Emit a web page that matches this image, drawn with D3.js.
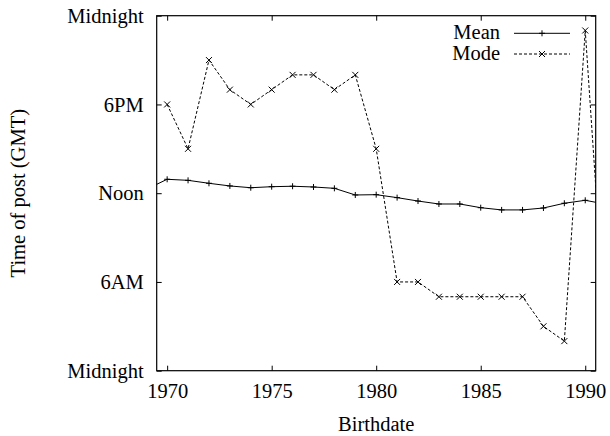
<!DOCTYPE html>
<html>
<head>
<meta charset="utf-8">
<script src="https://cdn.jsdelivr.net/npm/d3@7"></script>
<style>
  body { margin: 0; background: #fff; }
  text { font-family: "Liberation Serif", "Times New Roman", serif; font-size: 20.5px; fill: #000; }
</style>
</head>
<body>
<script>
// Birth years (the first and last fall just outside the visible range)
var meanYears = [1969, 1970, 1971, 1972, 1973, 1974, 1975, 1976, 1977, 1978, 1979, 1980,
                 1981, 1982, 1983, 1984, 1985, 1986, 1987, 1988, 1989, 1990, 1991];
// Mean posting hour (GMT)
var meanHours = [12.26, 12.94, 12.87, 12.67, 12.49, 12.37, 12.44, 12.47, 12.42, 12.33, 11.88, 11.90,
                 11.70, 11.47, 11.27, 11.27, 11.02, 10.87, 10.87, 11.00, 11.32, 11.52, 11.25];
var modeYears = [1970, 1971, 1972, 1973, 1974, 1975, 1976, 1977, 1978, 1979, 1980,
                 1981, 1982, 1983, 1984, 1985, 1986, 1987, 1988, 1989, 1990, 1991];
// Mode posting hour (GMT)
var modeHours = [18, 15, 21, 19, 18, 19, 20, 20, 19, 20, 15,
                 6, 6, 5, 5, 5, 5, 5, 3, 2, 23, 2];

var xTicks = [1970, 1975, 1980, 1985, 1990];
var yTicks = [0, 6, 12, 18, 24];
var yTickLabels = ["Midnight", "6AM", "Noon", "6PM", "Midnight"];
var seriesNames = ["Mean", "Mode"];

var width = 610,
    height = 436,
    margin = {top: 15.7, right: 14.3, bottom: 65.3, left: 156.7},
    w = width - margin.left - margin.right,
    h = height - margin.top - margin.bottom;

var svg = d3.select("body").append("svg")
    .attr("width", width)
    .attr("height", height);

var g = svg.append("g")
    .attr("transform", "translate(" + margin.left + "," + margin.top + ")");

var x = d3.scaleLinear().domain([1969.5, 1990.5]).range([0, w]);
var y = d3.scaleLinear().domain([0, 24]).range([h, 0]);

// clip the lines to the plot frame
svg.append("defs").append("clipPath")
    .attr("id", "plotClip")
  .append("rect")
    .attr("width", w)
    .attr("height", h);

// axes: ticks point inward, labels only on left and bottom
function styleAxis(sel) {
  sel.select(".domain").remove();
  sel.selectAll(".tick line").attr("stroke", "#000").attr("stroke-width", 1);
  sel.selectAll(".tick text").style("font-family", "Liberation Serif").style("font-size", "20.5px");
}

g.append("g")
    .attr("transform", "translate(0," + h + ")")
    .call(d3.axisBottom(x).tickValues(xTicks).tickFormat(d3.format("d"))
      .tickSizeInner(-5).tickSizeOuter(0).tickPadding(12.5))
    .call(styleAxis);

g.append("g")
    .call(d3.axisTop(x).tickValues(xTicks).tickFormat("")
      .tickSizeInner(-5).tickSizeOuter(0))
    .call(styleAxis);

g.append("g")
    .call(d3.axisLeft(y).tickValues(yTicks).tickFormat(function(d, i){ return yTickLabels[i]; })
      .tickSizeInner(-5).tickSizeOuter(0).tickPadding(13))
    .call(styleAxis);

g.append("g")
    .attr("transform", "translate(" + w + ",0)")
    .call(d3.axisRight(y).tickValues(yTicks).tickFormat("")
      .tickSizeInner(-5).tickSizeOuter(0))
    .call(styleAxis);

// frame
g.append("rect")
    .attr("width", w)
    .attr("height", h)
    .attr("fill", "none")
    .attr("stroke", "#000")
    .attr("stroke-width", 1.2);

var meanData = meanYears.map(function(d, i){ return [d, meanHours[i]]; });
var modeData = modeYears.map(function(d, i){ return [d, modeHours[i]]; });

var line = d3.line()
    .x(function(d){ return x(d[0]); })
    .y(function(d){ return y(d[1]); });

var plot = g.append("g").attr("clip-path", "url(#plotClip)");

plot.append("path")
    .datum(meanData)
    .attr("d", line)
    .attr("fill", "none")
    .attr("stroke", "#000")
    .attr("stroke-width", 1);

plot.append("path")
    .datum(modeData)
    .attr("d", line)
    .attr("fill", "none")
    .attr("stroke", "#000")
    .attr("stroke-width", 1)
    .attr("stroke-dasharray", "3,2");

var ms = 3;
function plusPath(cx, cy) {
  return "M" + (cx - ms) + "," + cy + "H" + (cx + ms) + "M" + cx + "," + (cy - ms) + "V" + (cy + ms);
}
function crossPath(cx, cy) {
  return "M" + (cx - ms) + "," + (cy - ms) + "L" + (cx + ms) + "," + (cy + ms) +
         "M" + (cx - ms) + "," + (cy + ms) + "L" + (cx + ms) + "," + (cy - ms);
}

plot.selectAll(".meanPt")
    .data(meanData)
    .enter()
    .append("path")
    .attr("class", "meanPt")
    .attr("d", function(d){ return plusPath(x(d[0]), y(d[1])); })
    .attr("stroke", "#000")
    .attr("stroke-width", 1);

plot.selectAll(".modePt")
    .data(modeData)
    .enter()
    .append("path")
    .attr("class", "modePt")
    .attr("d", function(d){ return crossPath(x(d[0]), y(d[1])); })
    .attr("stroke", "#000")
    .attr("stroke-width", 1);

// legend
var legend = svg.append("g");
var legendY = [33.3, 54];
seriesNames.forEach(function(name, i){
  var ly = legendY[i];
  legend.append("text")
      .attr("x", 500)
      .attr("y", ly + 5.7)
      .attr("text-anchor", "end")
      .text(name);
  legend.append("line")
      .attr("x1", 514).attr("x2", 570)
      .attr("y1", ly).attr("y2", ly)
      .attr("stroke", "#000")
      .attr("stroke-width", 1)
      .attr("stroke-dasharray", i === 1 ? "3,2" : null);
  legend.append("path")
      .attr("d", i === 0 ? plusPath(542, ly) : crossPath(542, ly))
      .attr("stroke", "#000")
      .attr("stroke-width", 1);
});

// axis titles
svg.append("text")
    .attr("x", margin.left + w / 2)
    .attr("y", 431)
    .attr("text-anchor", "middle")
    .text("Birthdate");

svg.append("text")
    .attr("transform", "translate(25," + (margin.top + h / 2) + ") rotate(-90)")
    .attr("text-anchor", "middle")
    .text("Time of post (GMT)");
</script>
</body>
</html>
